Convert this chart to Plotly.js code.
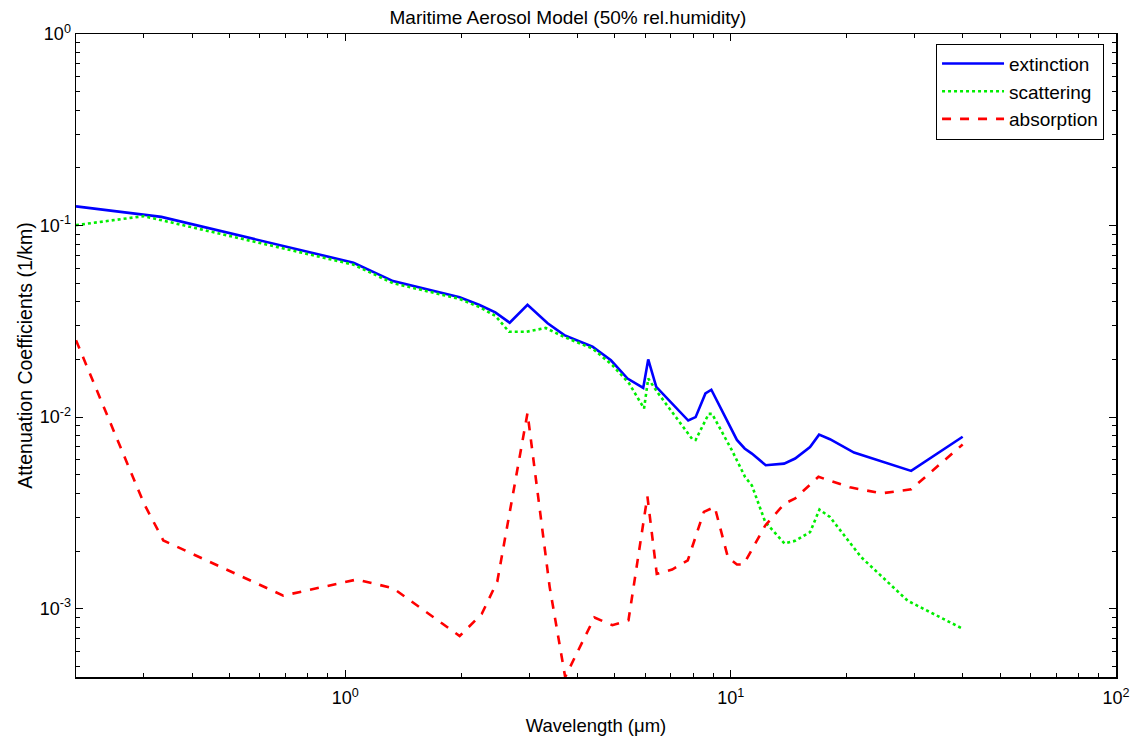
<!DOCTYPE html>
<html>
<head>
<meta charset="utf-8">
<script src="https://cdn.plot.ly/plotly-3.0.1.min.js"></script>
<style>
  html, body { margin: 0; padding: 0; background: #fff; }
  #chart { width: 1136px; height: 742px; }
</style>
</head>
<body>
<div id="chart"></div>
<script>
// Wavelength (µm) and attenuation coefficients (1/km) for each component
const extWavelength = [0.2, 0.333, 1.05, 1.33, 1.98, 2.23, 2.45, 2.67, 2.97, 3.35, 3.70, 4.38, 4.89, 5.40, 5.93, 6.11, 6.41, 7.76, 8.11, 8.60, 8.91, 10.38, 10.87, 11.35, 12.33, 13.76, 14.7, 16.07, 16.96, 18.1, 20.9, 29.4, 40];
const extinction    = [0.126, 0.111, 0.064, 0.0513, 0.0422, 0.0385, 0.0352, 0.0311, 0.0386, 0.0309, 0.0268, 0.0233, 0.0198, 0.0159, 0.0142, 0.0200, 0.0144, 0.0096, 0.0100, 0.0133, 0.0139, 0.0076, 0.00686, 0.00645, 0.00561, 0.00572, 0.00608, 0.00698, 0.0081, 0.00767, 0.00653, 0.00524, 0.0079];

const scaWavelength = [0.2, 0.30, 1.05, 1.33, 1.98, 2.23, 2.45, 2.66, 2.95, 3.31, 3.70, 4.38, 4.93, 5.45, 5.96, 6.11, 6.45, 7.94, 8.11, 8.77, 8.95, 10.08, 10.9, 11.35, 12.3, 13.8, 14.7, 16.07, 17.0, 18.1, 21.8, 28.8, 40];
const scattering    = [0.1005, 0.112, 0.0625, 0.0500, 0.0414, 0.0375, 0.0338, 0.0279, 0.0279, 0.0292, 0.0262, 0.0228, 0.0187, 0.0150, 0.0111, 0.0159, 0.0135, 0.0077, 0.0076, 0.0104, 0.0104, 0.0067, 0.00487, 0.0044, 0.00283, 0.00219, 0.00226, 0.00251, 0.00329, 0.00301, 0.00186, 0.0011, 0.000786];

const absWavelength = [0.2, 0.30, 0.337, 0.69, 1.07, 1.33, 1.98, 2.26, 2.48, 2.97, 3.39, 3.72, 4.43, 4.93, 5.43, 6.08, 6.43, 7.05, 7.74, 8.52, 9.09, 9.84, 10.38, 10.8, 12.3, 13.8, 14.7, 16.9, 20.4, 24.6, 29.4, 40];
const absorption    = [0.0252, 0.00355, 0.00227, 0.00117, 0.00142, 0.00128, 0.00072, 0.00094, 0.00139, 0.0105, 0.0013, 0.00044, 0.00090, 0.00082, 0.00087, 0.00386, 0.00152, 0.0016, 0.00179, 0.0032, 0.0034, 0.00185, 0.0017, 0.0017, 0.00272, 0.00354, 0.00376, 0.00488, 0.0043, 0.0040, 0.0042, 0.0072];

const seriesNames = ['extinction', 'scattering', 'absorption'];

// Axis decorations
const xMajor = [1, 10, 100];
const xMajorText = ['10<sup>0</sup>', '10<sup>1</sup>', '10<sup>2</sup>'];
const yMajor = [0.001, 0.01, 0.1, 1];
const yMajorText = ['10<sup>-3</sup>', '10<sup>-2</sup>', '10<sup>-1</sup>', '10<sup>0</sup>'];

const FONT = 'Liberation Sans, Arial, sans-serif';

function minorLog(lo, hi) {
  const out = [];
  for (let d = lo; d < hi; d++) {
    for (let m = 2; m <= 9; m++) out.push(m * Math.pow(10, d));
  }
  return out;
}

const traces = [
  { x: extWavelength, y: extinction, name: seriesNames[0], mode: 'lines',
    line: { color: '#0000ff', width: 2.6 } },
  { x: scaWavelength, y: scattering, name: seriesNames[1], mode: 'lines',
    line: { color: '#00ee00', width: 2.6, dash: 'dot' } },
  { x: absWavelength, y: absorption, name: seriesNames[2], mode: 'lines',
    line: { color: '#ff0000', width: 2.6, dash: 'dash' } }
];

const axisCommon = {
  type: 'log',
  showgrid: false,
  zeroline: false,
  showline: true,
  linecolor: '#000',
  linewidth: 1.5,
  mirror: 'ticks',
  ticks: 'inside',
  ticklen: 7,
  tickwidth: 1,
  tickcolor: '#000',
  tickmode: 'array',
  tickfont: { family: FONT, size: 18, color: '#000' }
};

const layout = {
  width: 1136,
  height: 742,
  paper_bgcolor: '#fff',
  plot_bgcolor: '#fff',
  margin: { l: 76, r: 20, t: 34, b: 65 },
  font: { family: FONT, size: 17, color: '#000' },
  title: {
    text: 'Maritime Aerosol Model (50% rel.humidity)',
    x: 0.5, xanchor: 'center', y: 0.977, yanchor: 'middle',
    font: { family: FONT, size: 19, color: '#000' }
  },
  xaxis: Object.assign({}, axisCommon, {
    range: [Math.log10(0.2), 2],
    tickvals: xMajor,
    ticktext: xMajorText,
    ticklabelstandoff: 4,
    minor: { tickmode: 'array', tickvals: minorLog(-1, 2).filter(v => v > 0.2), ticks: 'inside', ticklen: 4, tickcolor: '#000' },
    title: { text: 'Wavelength (\u03bcm)', standoff: 12,
             font: { family: FONT, size: 18.5, color: '#000' } }
  }),
  yaxis: Object.assign({}, axisCommon, {
    range: [Math.log10(0.00044), 0],
    tickvals: yMajor,
    ticktext: yMajorText,
    minor: { tickmode: 'array', tickvals: minorLog(-4, 0).filter(v => v > 0.00044), ticks: 'inside', ticklen: 4, tickcolor: '#000' },
    title: { text: 'Attenuation Coefficients (1/km)', standoff: 2,
             font: { family: FONT, size: 19.5, color: '#000' } }
  }),
  legend: {
    x: 0.9885, xanchor: 'right',
    y: 0.985, yanchor: 'top',
    bgcolor: '#fff',
    bordercolor: '#000',
    borderwidth: 1,
    itemwidth: 62,
    font: { family: FONT, size: 19, color: '#000' }
  },
  showlegend: true
};

Plotly.newPlot('chart', traces, layout, { staticPlot: true, displayModeBar: false });
</script>
</body>
</html>
